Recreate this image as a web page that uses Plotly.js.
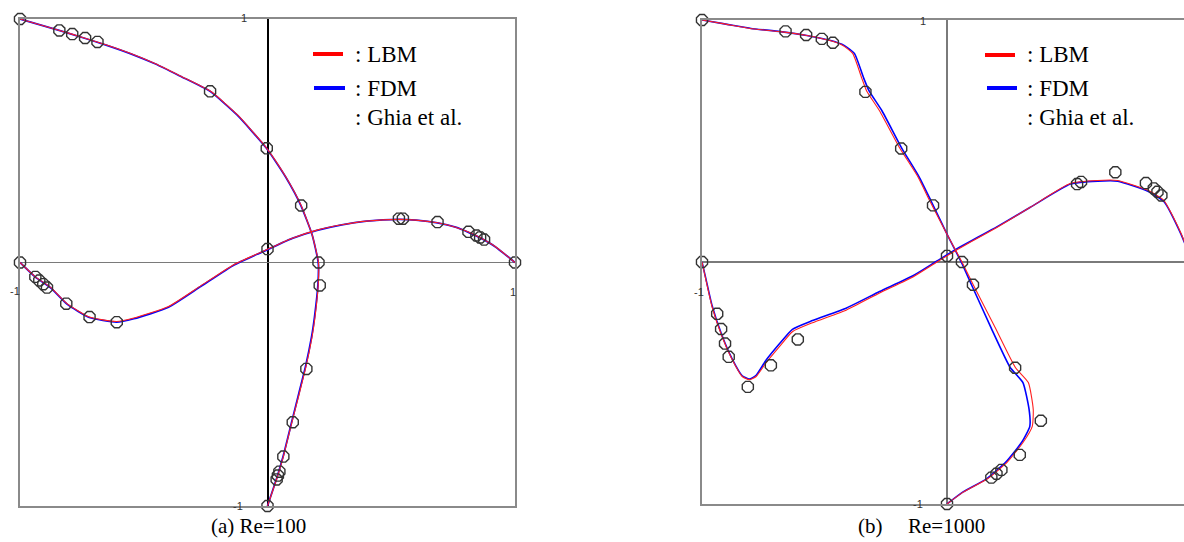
<!DOCTYPE html>
<html>
<head>
<meta charset="utf-8">
<script src="https://cdn.plot.ly/plotly-3.0.1.min.js"></script>
<style>html,body{margin:0;padding:0;background:#fff;}#chart{width:1184px;height:542px;}</style>
</head>
<body>
<div id="chart"></div>
<script>
// ---------- Re = 100 ----------
// u along vertical centreline, plotted as (-u, 2y-1)
const lbmU100X = [-1, -0.84, -0.74, -0.65, -0.55, -0.45, -0.35, -0.23, -0.12, -0.003, 0.075, 0.136, 0.18, 0.206, 0.205, 0.192, 0.18, 0.155, 0.128, 0.1, 0.064, 0.04, 0];
const lbmU100Y = [1, 0.953, 0.922, 0.893, 0.857, 0.815, 0.765, 0.703, 0.605, 0.469, 0.35, 0.234, 0.115, 0, -0.09, -0.224, -0.306, -0.43, -0.54, -0.65, -0.797, -0.88, -1];
const fdmU100X = [-1, -0.842, -0.742, -0.652, -0.552, -0.452, -0.352, -0.232, -0.122, -0.004, 0.074, 0.135, 0.18, 0.205, 0.204, 0.19, 0.178, 0.153, 0.126, 0.099, 0.063, 0.039, 0];
const fdmU100Y = lbmU100Y;
// v along horizontal centreline, plotted as (1-2x, v)
const lbmV100X = [-1, -0.938, -0.875, -0.81, -0.72, -0.61, -0.54, -0.4, -0.27, -0.135, 0, 0.1, 0.2, 0.3, 0.4, 0.531, 0.6, 0.687, 0.76, 0.812, 0.86, 0.92, 1];
const lbmV100Y = [0, -0.059, -0.103, -0.169, -0.224, -0.242, -0.228, -0.181, -0.096, -0.008, 0.0545, 0.1, 0.133, 0.155, 0.17, 0.177, 0.174, 0.163, 0.145, 0.125, 0.102, 0.066, 0];
const fdmV100X = lbmV100X;
const fdmV100Y = [0, -0.06, -0.105, -0.171, -0.226, -0.245, -0.231, -0.184, -0.099, -0.01, 0.053, 0.099, 0.132, 0.155, 0.17, 0.177, 0.174, 0.163, 0.145, 0.124, 0.101, 0.065, 0];
// Ghia et al.
const ghiaU100X = [-1, -0.841, -0.789, -0.737, -0.687, -0.232, -0.003, 0.136, 0.206, 0.211, 0.157, 0.102, 0.064, 0.048, 0.042, 0.037, 0];
const ghiaU100Y = [1, 0.953, 0.938, 0.922, 0.906, 0.703, 0.469, 0.234, 0, -0.094, -0.437, -0.656, -0.797, -0.859, -0.875, -0.891, -1];
const ghiaV100X = [-1, -0.938, -0.922, -0.906, -0.891, -0.813, -0.719, -0.609, 0, 0.531, 0.547, 0.687, 0.812, 0.844, 0.859, 0.875, 1];
const ghiaV100Y = [0, -0.059, -0.074, -0.089, -0.103, -0.169, -0.224, -0.245, 0.055, 0.18, 0.18, 0.166, 0.126, 0.111, 0.103, 0.094, 0];

// ---------- Re = 1000 ----------
const lbmU1000X = [-1, -0.914, -0.873, -0.804, -0.682, -0.572, -0.478, -0.425, -0.385, -0.348, -0.328, -0.275, -0.193, -0.12, -0.07, 0, 0.061, 0.107, 0.197, 0.279, 0.332, 0.352, 0.348, 0.311, 0.246, 0.164, 0.066, 0];
const lbmU1000Y = [1, 0.985, 0.977, 0.965, 0.952, 0.936, 0.915, 0.895, 0.862, 0.76, 0.707, 0.624, 0.471, 0.354, 0.252, 0.115, 0, -0.094, -0.272, -0.436, -0.498, -0.609, -0.679, -0.745, -0.827, -0.897, -0.951, -1];
const fdmU1000X = [-1, -0.914, -0.87, -0.8, -0.68, -0.572, -0.475, -0.42, -0.378, -0.34, -0.318, -0.265, -0.185, -0.115, -0.065, 0, 0.058, 0.1, 0.18, 0.258, 0.31, 0.335, 0.338, 0.305, 0.24, 0.16, 0.064, 0];
const fdmU1000Y = lbmU1000Y;
const lbmV1000X = [-1, -0.984, -0.959, -0.918, -0.877, -0.836, -0.807, -0.779, -0.738, -0.684, -0.631, -0.549, -0.41, -0.275, -0.139, -0.041, 0.053, 0.205, 0.34, 0.504, 0.615, 0.697, 0.82, 0.885, 0.955, 1];
const lbmV1000Y = [0, -0.074, -0.185, -0.309, -0.403, -0.473, -0.486, -0.473, -0.416, -0.35, -0.288, -0.251, -0.198, -0.128, -0.062, 0, 0.058, 0.144, 0.226, 0.325, 0.337, 0.337, 0.296, 0.255, 0.119, 0];
const fdmV1000X = lbmV1000X;
const fdmV1000Y = [0, -0.07, -0.18, -0.305, -0.4, -0.47, -0.484, -0.468, -0.405, -0.338, -0.278, -0.242, -0.19, -0.122, -0.057, 0.004, 0.062, 0.146, 0.226, 0.322, 0.334, 0.334, 0.292, 0.25, 0.115, 0];
const ghiaU1000X = [-1, -0.659, -0.575, -0.511, -0.466, -0.333, -0.187, -0.057, 0.061, 0.106, 0.278, 0.383, 0.297, 0.222, 0.202, 0.181, 0];
const ghiaU1000Y = [1, 0.953, 0.938, 0.922, 0.906, 0.703, 0.469, 0.234, 0, -0.094, -0.437, -0.656, -0.797, -0.859, -0.875, -0.891, -1];
const ghiaV1000X = [-1, -0.938, -0.922, -0.906, -0.891, -0.813, -0.719, -0.609, 0, 0.531, 0.547, 0.687, 0.812, 0.844, 0.859, 0.875, 1];
const ghiaV1000Y = [0, -0.214, -0.277, -0.337, -0.392, -0.516, -0.427, -0.32, 0.025, 0.322, 0.331, 0.371, 0.326, 0.304, 0.29, 0.275, 0];

// text
const legendNames = ['LBM', 'FDM', 'Ghia et al.'];
const captions = ['(a) Re=100', '(b)', 'Re=1000'];
const tickOne = '1', tickMinusOne = '-1';

const W = 1184, H = 542;
const px = v => v / W, py = v => 1 - v / H;

function line(x, y, color, width, xa, ya) {
  return {x, y, xaxis: xa, yaxis: ya, mode: 'lines', type: 'scatter',
    line: {color, width, shape: 'spline', smoothing: 0.5}, showlegend: false, hoverinfo: 'skip'};
}
function marks(x, y, xa, ya) {
  return {x, y, xaxis: xa, yaxis: ya, mode: 'markers', type: 'scatter', cliponaxis: false,
    marker: {symbol: 'octagon-open', size: 12, color: '#333333', line: {width: 1.4, color: '#333333'}},
    showlegend: false, hoverinfo: 'skip'};
}

const data = [
  line(fdmU100X, fdmU100Y, '#0000ff', 1.8, 'x', 'y'),
  line(fdmV100X, fdmV100Y, '#0000ff', 1.8, 'x', 'y'),
  line(lbmU100X, lbmU100Y, '#ff2020', 1.1, 'x', 'y'),
  line(lbmV100X, lbmV100Y, '#ff2020', 1.1, 'x', 'y'),
  marks(ghiaU100X, ghiaU100Y, 'x', 'y'),
  marks(ghiaV100X, ghiaV100Y, 'x', 'y'),
  line(fdmU1000X, fdmU1000Y, '#0000ff', 1.6, 'x2', 'y2'),
  line(fdmV1000X, fdmV1000Y, '#0000ff', 1.6, 'x2', 'y2'),
  line(lbmU1000X, lbmU1000Y, '#ff2020', 1.1, 'x2', 'y2'),
  line(lbmV1000X, lbmV1000Y, '#ff2020', 1.1, 'x2', 'y2'),
  marks(ghiaU1000X, ghiaU1000Y, 'x2', 'y2'),
  marks(ghiaV1000X, ghiaV1000Y, 'x2', 'y2')
];

const axBase = {showgrid: false, showticklabels: false, ticks: '', zeroline: true,
  showline: true, linecolor: '#8a8a8a', linewidth: 2, fixedrange: true};

const tickFont = {family: 'Liberation Sans', size: 11, color: '#333333'};
const legFont = {family: 'Liberation Serif', size: 23, color: '#000000'};
const capFont = {family: 'Liberation Serif', size: 21, color: '#000000'};

function ann(text, x, y, font, xanchor) {
  return {text, xref: 'paper', yref: 'paper', x: px(x), y: py(y), showarrow: false,
    xanchor: xanchor || 'center', yanchor: 'middle', font};
}

const annotations = [
  // ticks (a)
  ann(tickOne, 244, 18, tickFont), ann(tickMinusOne, 15, 291, tickFont),
  ann(tickOne, 513, 292, tickFont), ann(tickMinusOne, 238, 506, tickFont),
  // ticks (b)
  ann(tickOne, 923, 21, tickFont), ann(tickMinusOne, 699, 292, tickFont),
  ann(tickMinusOne, 918, 504, tickFont),
  // legends
  ann(':\u00a0' + legendNames[0], 353, 55, legFont, 'left'),
  ann(':\u00a0' + legendNames[1], 353, 88, legFont, 'left'),
  ann(':\u00a0' + legendNames[2], 353, 118, legFont, 'left'),
  ann(':\u00a0' + legendNames[0], 1025, 55, legFont, 'left'),
  ann(':\u00a0' + legendNames[1], 1025, 88, legFont, 'left'),
  ann(':\u00a0' + legendNames[2], 1025, 118, legFont, 'left'),
  // captions
  ann(captions[0], 209, 526, capFont, 'left'),
  ann(captions[1], 856, 526, capFont, 'left'),
  ann(captions[2], 906, 526, capFont, 'left')
];

function legLine(x0, x1, y, color) {
  return {type: 'line', xref: 'paper', yref: 'paper', x0: px(x0), x1: px(x1), y0: py(y), y1: py(y),
    line: {color, width: 4}};
}
const shapes = [
  legLine(313, 343, 54, '#ff0000'), legLine(314, 345, 88, '#0000ff'),
  legLine(985, 1015, 55, '#ff0000'), legLine(987, 1017, 88, '#0000ff')
];

const layout = {
  width: W, height: H,
  margin: {l: 0, r: 0, t: 0, b: 0, pad: 0},
  paper_bgcolor: '#ffffff', plot_bgcolor: '#ffffff',
  showlegend: false,
  font: {family: 'Liberation Serif'},
  xaxis: Object.assign({}, axBase, {domain: [px(20), px(515)], range: [-1, 1], anchor: 'y', mirror: true,
    zerolinecolor: '#000000', zerolinewidth: 2}),
  yaxis: Object.assign({}, axBase, {domain: [py(506), py(19)], range: [-1, 1], anchor: 'x', mirror: true,
    zerolinecolor: '#7a7a7a', zerolinewidth: 1.5}),
  xaxis2: Object.assign({}, axBase, {domain: [px(702), 1], range: [-1, (1184 - 702) / 245 - 1], anchor: 'y2', mirror: true,
    zerolinecolor: '#7a7a7a', zerolinewidth: 1.5}),
  yaxis2: Object.assign({}, axBase, {domain: [py(504), py(20)], range: [-1, 1], anchor: 'x2', mirror: false,
    zerolinecolor: '#7a7a7a', zerolinewidth: 1.5}),
  annotations, shapes
};

Plotly.newPlot('chart', data, layout, {staticPlot: true, displayModeBar: false});
</script>
</body>
</html>
